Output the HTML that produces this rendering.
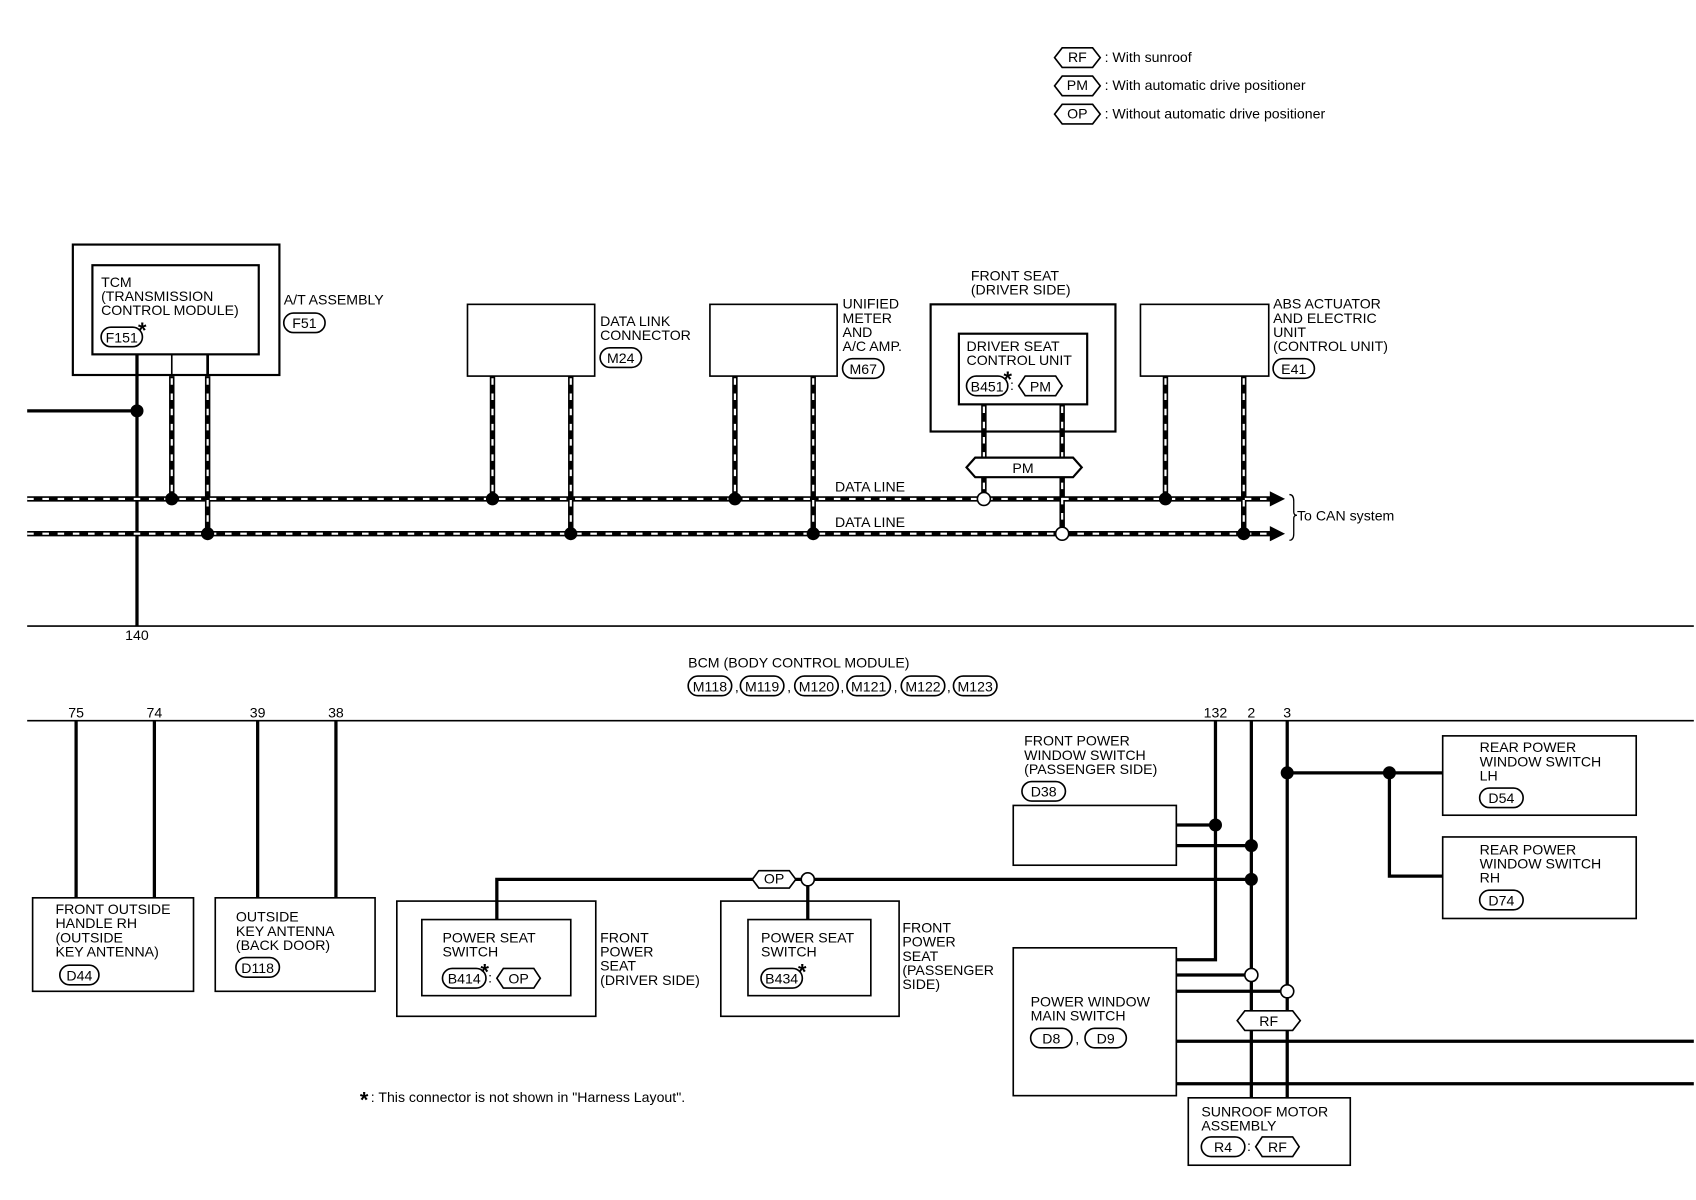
<!DOCTYPE html>
<html><head><meta charset="utf-8"><style>
html,body{margin:0;padding:0;background:#fff}
svg{display:block}
text{font-family:"Liberation Sans",sans-serif;font-size:13px;fill:#000}
text.ast{font-size:20px;font-weight:bold}
</style></head><body>
<svg width="1696" height="1200" viewBox="0 0 1560 1104" preserveAspectRatio="none" xmlns="http://www.w3.org/2000/svg">
<g fill="none" stroke="#000">
<path d="M970,53 l7,-9 h28 l7,9 l-7,9 h-28z" stroke-width="1.5"/>
<path d="M970,79 l7,-9 h28 l7,9 l-7,9 h-28z" stroke-width="1.5"/>
<path d="M970,105 l7,-9 h28 l7,9 l-7,9 h-28z" stroke-width="1.5"/>

<rect x="67" y="225" width="190" height="120" stroke-width="2"/>
<rect x="85" y="244" width="153" height="82" stroke-width="2"/>
<rect x="93" y="301" width="38" height="18" rx="9" stroke-width="1.5"/>
<rect x="261" y="288" width="38" height="18" rx="9" stroke-width="1.5"/>

<rect x="430" y="280" width="117" height="66" stroke-width="1.5"/>
<rect x="552" y="320" width="38" height="18" rx="9" stroke-width="1.5"/>
<rect x="653" y="280" width="117" height="66" stroke-width="1.5"/>
<rect x="775" y="330" width="38" height="18" rx="9" stroke-width="1.5"/>
<rect x="856" y="280" width="170" height="117" stroke-width="2"/>
<rect x="882" y="307" width="118" height="65" stroke-width="2"/>
<rect x="889" y="346" width="38" height="18" rx="9" stroke-width="1.5"/>
<path d="M937,355 l6,-9 h28 l6,9 l-6,9 h-28z" stroke-width="1.5"/>
<rect x="1049" y="280" width="118" height="66" stroke-width="1.5"/>
<rect x="1171" y="330" width="38" height="18" rx="9" stroke-width="1.5"/>

<line x1="126" y1="326" x2="126" y2="576" stroke-width="3"/>
<line x1="25" y1="378" x2="126" y2="378" stroke-width="3"/>

<g stroke-width="5">
<line x1="25" y1="459" x2="1170" y2="459"/>
<line x1="25" y1="491" x2="1170" y2="491"/>
<line x1="158" y1="346" x2="158" y2="459"/>
<line x1="191" y1="346" x2="191" y2="491"/>
<line x1="453" y1="346" x2="453" y2="459"/>
<line x1="525" y1="346" x2="525" y2="491"/>
<line x1="676" y1="346" x2="676" y2="459"/>
<line x1="748" y1="346" x2="748" y2="491"/>
<line x1="905" y1="372" x2="905" y2="459"/>
<line x1="977" y1="372" x2="977" y2="491"/>
<line x1="1072" y1="346" x2="1072" y2="459"/>
<line x1="1144" y1="346" x2="1144" y2="491"/>
</g>
<g stroke="#fff" stroke-width="2" stroke-dasharray="6,8">
<line x1="25" y1="459" x2="1166" y2="459"/>
<line x1="25" y1="491" x2="1166" y2="491"/>
<line x1="158" y1="348" x2="158" y2="459"/>
<line x1="191" y1="348" x2="191" y2="491"/>
<line x1="453" y1="348" x2="453" y2="459"/>
<line x1="525" y1="348" x2="525" y2="491"/>
<line x1="676" y1="348" x2="676" y2="459"/>
<line x1="748" y1="348" x2="748" y2="491"/>
<line x1="905" y1="374" x2="905" y2="459"/>
<line x1="977" y1="374" x2="977" y2="491"/>
<line x1="1072" y1="348" x2="1072" y2="459"/>
<line x1="1144" y1="348" x2="1144" y2="491"/>
</g>
<line x1="158" y1="326" x2="158" y2="346" stroke-width="1.5"/>
<line x1="191" y1="326" x2="191" y2="346" stroke-width="2.5"/>
<path d="M889,430 l8,-9 h90 l8,9 l-8,9 h-90z" fill="#fff" stroke-width="2"/>
<path d="M1186,455 q4,0 4,6 v10 q0,3 3,3 q-3,0 -3,3 v14 q0,6 -4,6" stroke-width="1.2"/>

<line x1="25" y1="576" x2="1558" y2="576" stroke-width="1.5"/>
<line x1="25" y1="663" x2="1558" y2="663" stroke-width="1.5"/>
<g stroke-width="1.5">
<rect x="633" y="622" width="40" height="18" rx="9"/>
<rect x="681" y="622" width="40" height="18" rx="9"/>
<rect x="731" y="622" width="40" height="18" rx="9"/>
<rect x="779" y="622" width="40" height="18" rx="9"/>
<rect x="829" y="622" width="40" height="18" rx="9"/>
<rect x="877" y="622" width="40" height="18" rx="9"/>
</g>

<g stroke-width="3">
<line x1="70" y1="663" x2="70" y2="826"/>
<line x1="142" y1="663" x2="142" y2="826"/>
<line x1="237" y1="663" x2="237" y2="826"/>
<line x1="309" y1="663" x2="309" y2="826"/>
<polyline points="457,846 457,809 1151,809"/>
<line x1="743" y1="809" x2="743" y2="846"/>
<polyline points="1118,663 1118,883 1082,883"/>
<line x1="1151" y1="663" x2="1151" y2="1010"/>
<line x1="1184" y1="663" x2="1184" y2="1010"/>
<line x1="1082" y1="759" x2="1118" y2="759"/>
<line x1="1082" y1="778" x2="1151" y2="778"/>
<line x1="1082" y1="897" x2="1151" y2="897"/>
<line x1="1082" y1="912" x2="1184" y2="912"/>
<line x1="1082" y1="958" x2="1558" y2="958"/>
<line x1="1082" y1="997" x2="1558" y2="997"/>
<line x1="1184" y1="711" x2="1327" y2="711"/>
<polyline points="1278,711 1278,806 1327,806"/>
</g>
<path d="M692,809 l6,-8 h28 l6,8 l-6,8 h-28z" fill="#fff" stroke-width="1.5"/>
<path d="M1138,939 l7,-9 h44 l7,9 l-7,9 h-44z" fill="#fff" stroke-width="1.5"/>

<g stroke-width="1.5">
<rect x="30" y="826" width="148" height="86"/>
<rect x="55" y="888" width="36" height="18" rx="9"/>
<rect x="198" y="826" width="147" height="86"/>
<rect x="217" y="881" width="40" height="18" rx="9"/>
<rect x="365" y="829" width="183" height="106"/>
<rect x="388" y="846" width="137" height="70"/>
<rect x="407" y="891" width="40" height="18" rx="9"/>
<path d="M457,900 l6,-9 h28 l6,9 l-6,9 h-28z"/>
<rect x="663" y="829" width="164" height="106"/>
<rect x="688" y="846" width="113" height="70"/>
<rect x="700" y="891" width="38" height="18" rx="9"/>
<rect x="940" y="719" width="40" height="18" rx="9"/>
<rect x="932" y="741" width="150" height="55"/>
<rect x="932" y="872" width="150" height="136"/>
<rect x="948" y="946" width="38" height="18" rx="9"/>
<rect x="998" y="946" width="38" height="18" rx="9"/>
<rect x="1093" y="1010" width="149" height="62" fill="#fff"/>
<rect x="1105" y="1046" width="40" height="18" rx="9"/>
<path d="M1155,1055 l6,-9 h28 l6,9 l-6,9 h-28z"/>
<rect x="1327" y="677" width="178" height="73"/>
<rect x="1361" y="725" width="40" height="18" rx="9"/>
<rect x="1327" y="770" width="178" height="75"/>
<rect x="1361" y="819" width="40" height="18" rx="9"/>
</g>
</g>

<path d="M1168,452 l14,7 l-14,7z M1168,484 l14,7 l-14,7z" fill="#000"/>

<g fill="#000">
<circle cx="126" cy="378" r="6"/><circle cx="158" cy="459" r="6"/><circle cx="191" cy="491" r="6"/>
<circle cx="453" cy="459" r="6"/><circle cx="525" cy="491" r="6"/><circle cx="676" cy="459" r="6"/>
<circle cx="748" cy="491" r="6"/><circle cx="1072" cy="459" r="6"/><circle cx="1144" cy="491" r="6"/>
<circle cx="1118" cy="759" r="6"/><circle cx="1151" cy="778" r="6"/><circle cx="1151" cy="809" r="6"/>
<circle cx="1184" cy="711" r="6"/><circle cx="1278" cy="711" r="6"/>
</g>
<g fill="#fff" stroke="#000" stroke-width="1.5">
<circle cx="905" cy="459" r="6"/><circle cx="977" cy="491" r="6"/>
<circle cx="743" cy="809" r="6"/><circle cx="1151" cy="897" r="6"/><circle cx="1184" cy="912" r="6"/>
</g>

<text x="991" y="57" text-anchor="middle">RF</text><text x="1016" y="57">: With sunroof</text>
<text x="991" y="83" text-anchor="middle">PM</text><text x="1016" y="83">: With automatic drive positioner</text>
<text x="991" y="109" text-anchor="middle">OP</text><text x="1016" y="109">: Without automatic drive positioner</text>

<text x="93" y="264">TCM</text>
<text x="93" y="277">(TRANSMISSION</text>
<text x="93" y="290"> CONTROL MODULE)</text>
<text x="112" y="315" text-anchor="middle">F151</text><text class="ast" x="127" y="311">*</text>
<text x="261" y="280">A/T ASSEMBLY</text>
<text x="280" y="302" text-anchor="middle">F51</text>

<text x="552" y="300">DATA LINK</text><text x="552" y="313">CONNECTOR</text>
<text x="571" y="334" text-anchor="middle">M24</text>
<text x="775" y="284">UNIFIED</text><text x="775" y="297">METER</text><text x="775" y="310">AND</text><text x="775" y="323">A/C AMP.</text>
<text x="794" y="344" text-anchor="middle">M67</text>
<text x="893" y="258">FRONT SEAT</text><text x="893" y="271">(DRIVER SIDE)</text>
<text x="889" y="323">DRIVER SEAT</text><text x="889" y="336">CONTROL UNIT</text>
<text x="908" y="360" text-anchor="middle">B451</text><text class="ast" x="923" y="356">*</text><text x="929" y="359">:</text>
<text x="957" y="360" text-anchor="middle">PM</text>
<text x="941" y="435" text-anchor="middle">PM</text>
<text x="1171" y="284">ABS ACTUATOR</text><text x="1171" y="297">AND ELECTRIC</text><text x="1171" y="310">UNIT</text><text x="1171" y="323">(CONTROL UNIT)</text>
<text x="1190" y="344" text-anchor="middle">E41</text>
<text x="768" y="452">DATA LINE</text><text x="768" y="485">DATA LINE</text>
<text x="1193" y="479">To CAN system</text>

<text x="126" y="589" text-anchor="middle">140</text>
<text x="633" y="614">BCM (BODY CONTROL MODULE)</text>
<text x="653" y="636" text-anchor="middle">M118</text><text x="676" y="636">,</text>
<text x="701" y="636" text-anchor="middle">M119</text><text x="724" y="636">,</text>
<text x="751" y="636" text-anchor="middle">M120</text><text x="773" y="636">,</text>
<text x="799" y="636" text-anchor="middle">M121</text><text x="822" y="636">,</text>
<text x="849" y="636" text-anchor="middle">M122</text><text x="871" y="636">,</text>
<text x="897" y="636" text-anchor="middle">M123</text>

<text x="70" y="660" text-anchor="middle">75</text><text x="142" y="660" text-anchor="middle">74</text>
<text x="237" y="660" text-anchor="middle">39</text><text x="309" y="660" text-anchor="middle">38</text>
<text x="1118" y="660" text-anchor="middle">132</text><text x="1151" y="660" text-anchor="middle">2</text><text x="1184" y="660" text-anchor="middle">3</text>

<text x="51" y="841">FRONT OUTSIDE</text><text x="51" y="854">HANDLE RH</text><text x="51" y="867">(OUTSIDE</text><text x="51" y="880"> KEY ANTENNA)</text>
<text x="73" y="902" text-anchor="middle">D44</text>
<text x="217" y="848">OUTSIDE</text><text x="217" y="861">KEY ANTENNA</text><text x="217" y="874">(BACK DOOR)</text>
<text x="237" y="895" text-anchor="middle">D118</text>
<text x="407" y="867">POWER SEAT</text><text x="407" y="880">SWITCH</text>
<text x="427" y="905" text-anchor="middle">B414</text><text class="ast" x="442" y="901">*</text><text x="449" y="904">:</text>
<text x="477" y="905" text-anchor="middle">OP</text>
<text x="552" y="867">FRONT</text><text x="552" y="880">POWER</text><text x="552" y="893">SEAT</text><text x="552" y="906">(DRIVER SIDE)</text>
<text x="712" y="813" text-anchor="middle">OP</text>
<text x="700" y="867">POWER SEAT</text><text x="700" y="880">SWITCH</text>
<text x="719" y="905" text-anchor="middle">B434</text><text class="ast" x="734" y="901">*</text>
<text x="830" y="858">FRONT</text><text x="830" y="871">POWER</text><text x="830" y="884">SEAT</text><text x="830" y="897">(PASSENGER</text><text x="830" y="910"> SIDE)</text>
<text x="942" y="686">FRONT POWER</text><text x="942" y="699">WINDOW SWITCH</text><text x="942" y="712">(PASSENGER SIDE)</text>
<text x="960" y="733" text-anchor="middle">D38</text>
<text x="948" y="926">POWER WINDOW</text><text x="948" y="939">MAIN SWITCH</text>
<text x="967" y="960" text-anchor="middle">D8</text><text x="989" y="960">,</text><text x="1017" y="960" text-anchor="middle">D9</text>
<text x="1167" y="944" text-anchor="middle">RF</text>
<text x="1105" y="1027">SUNROOF MOTOR</text><text x="1105" y="1040">ASSEMBLY</text>
<text x="1125" y="1060" text-anchor="middle">R4</text><text x="1147" y="1059">:</text><text x="1175" y="1060" text-anchor="middle">RF</text>
<text x="1361" y="692">REAR POWER</text><text x="1361" y="705">WINDOW SWITCH</text><text x="1361" y="718">LH</text>
<text x="1381" y="739" text-anchor="middle">D54</text>
<text x="1361" y="786">REAR POWER</text><text x="1361" y="799">WINDOW SWITCH</text><text x="1361" y="812">RH</text>
<text x="1381" y="833" text-anchor="middle">D74</text>
<text class="ast" x="331" y="1019">*</text><text x="341" y="1014">: This connector is not shown in "Harness Layout".</text>
</svg>
</body></html>
